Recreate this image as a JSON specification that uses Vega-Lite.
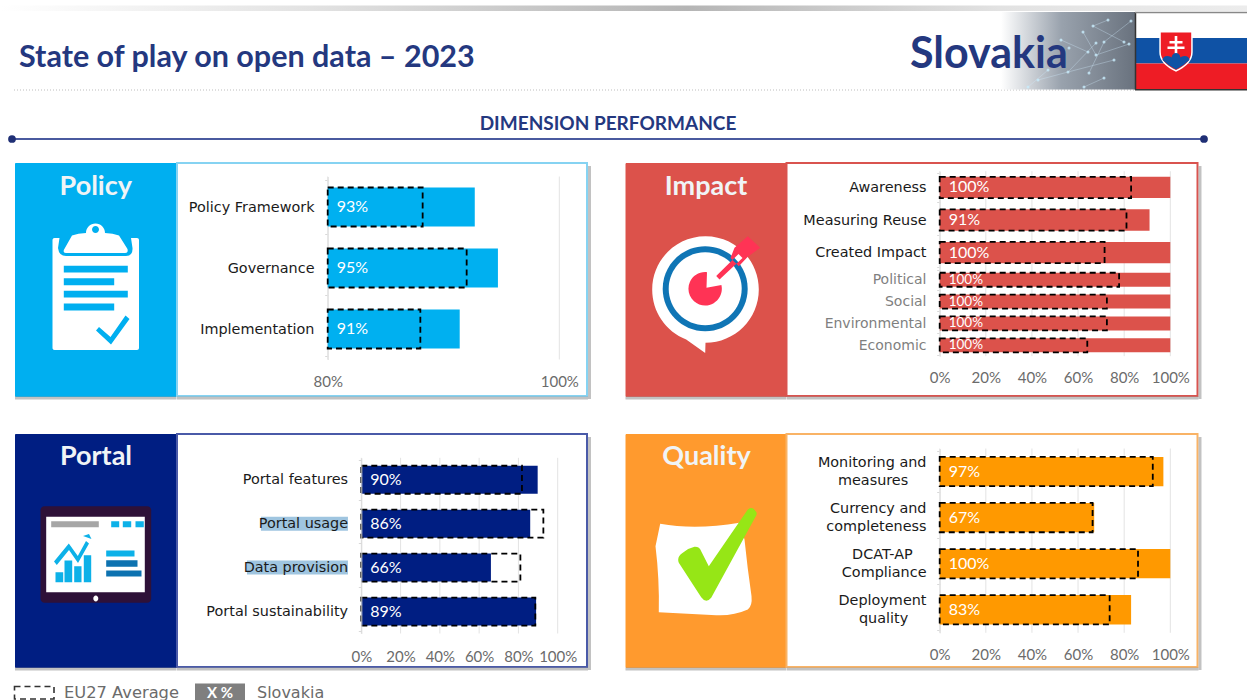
{
"$schema":"https://vega.github.io/schema/vega-lite/v6.json",
"padding":0,
"background":"white",
"spacing":0,
"config":{"font":"Lato","view":{"stroke":null},"axis":{"labelOverlap":false,"labelFlush":false,"labelBound":false,"title":null}},
"datasets":{
"policy":[{"dimension":"Policy Framework","slovakia":0.927,"eu27":0.882},{"dimension":"Governance","slovakia":0.947,"eu27":0.92},{"dimension":"Implementation","slovakia":0.914,"eu27":0.88}],
"impactMain":[{"dimension":"Awareness","slovakia":1,"eu27":0.83},{"dimension":"Measuring Reuse","slovakia":0.91,"eu27":0.81},{"dimension":"Created Impact","slovakia":1,"eu27":0.715}],
"impactSub":[{"dimension":"Political","slovakia":1,"eu27":0.778},{"dimension":"Social","slovakia":1,"eu27":0.725},{"dimension":"Environmental","slovakia":1,"eu27":0.725},{"dimension":"Economic","slovakia":1,"eu27":0.64}],
"portal":[{"dimension":"Portal features","slovakia":0.898,"eu27":0.818},{"dimension":"Portal usage","slovakia":0.86,"eu27":0.927},{"dimension":"Data provision","slovakia":0.66,"eu27":0.81},{"dimension":"Portal sustainability","slovakia":0.89,"eu27":0.886}],
"quality":[{"dimension":"Monitoring and\nmeasures\u00a0\u00a0\u00a0\u00a0\u200b","slovakia":0.97,"eu27":0.924},{"dimension":"Currency and\ncompleteness","slovakia":0.67,"eu27":0.663},{"dimension":"DCAT-AP\u00a0\u00a0\u00a0\u200b\nCompliance","slovakia":1,"eu27":0.86},{"dimension":"Deployment\nquality\u00a0\u00a0\u00a0\u00a0\u200b","slovakia":0.83,"eu27":0.737}],
"ticks":[{"tick":0},{"tick":0.2},{"tick":0.4},{"tick":0.6},{"tick":0.8},{"tick":1}],
"policyTicks":[{"tick":0.8},{"tick":1}],
"nodes":[{"nx":1130,"ny":21},{"nx":1092,"ny":26},{"nx":1095,"ny":43},{"nx":1103,"ny":42},{"nx":1123,"ny":42},{"nx":1128,"ny":44},{"nx":1067,"ny":72},{"nx":1088,"ny":73},{"nx":1103,"ny":78},{"nx":1113,"ny":60},{"nx":1087,"ny":52},{"nx":1082,"ny":32},{"nx":1107,"ny":20},{"nx":1095,"ny":55},{"nx":1068,"ny":48},{"nx":1047,"ny":70},{"nx":1037,"ny":80},{"nx":1027,"ny":87},{"nx":1083,"ny":87},{"nx":1060,"ny":40}],
"links":[{"link":1,"nx":1092,"ny":26},{"link":1,"nx":1123,"ny":42},{"link":2,"nx":1095,"ny":43},{"link":2,"nx":1067,"ny":72},{"link":3,"nx":1103,"ny":42},{"link":3,"nx":1088,"ny":73},{"link":4,"nx":1130,"ny":21},{"link":4,"nx":1103,"ny":42},{"link":5,"nx":1113,"ny":60},{"link":5,"nx":1067,"ny":72},{"link":6,"nx":1037,"ny":80},{"link":6,"nx":1067,"ny":72},{"link":7,"nx":1027,"ny":87},{"link":7,"nx":1047,"ny":70},{"link":8,"nx":1083,"ny":87},{"link":8,"nx":1103,"ny":78},{"link":9,"nx":1082,"ny":32},{"link":9,"nx":1095,"ny":55},{"link":10,"nx":1128,"ny":44},{"link":10,"nx":1095,"ny":55},{"link":11,"nx":1060,"ny":40},{"link":11,"nx":1087,"ny":52},{"link":12,"nx":1107,"ny":20},{"link":12,"nx":1092,"ny":26}]
},
"vconcat":[
{
"width":1247,"height":154,
"data":{"values":[{"title":"State of play on open data – 2023","country":"Slovakia","section":"DIMENSION PERFORMANCE"}]},
"layer":[
{"encoding":{"x":{"datum":0,"type":"quantitative","scale":{"domain":[0,1247]},"axis":null},"y":{"datum":0,"type":"quantitative","scale":{"domain":[154,0]},"axis":null}},
"layer":[
{"mark":{"type":"rect","color":{"gradient":"linear","x1":0,"x2":1,"y1":0,"y2":0,"stops":[{"offset":0,"color":"#ffffff"},{"offset":0.25,"color":"#e2e2e2"},{"offset":0.55,"color":"#b5b5b5"},{"offset":0.8,"color":"#e2e2e2"},{"offset":1,"color":"#ececec"}]}},"encoding":{"x":{"datum":0},"x2":{"datum":1247},"y":{"datum":5.5},"y2":{"datum":11}}},
{"mark":{"type":"rule","color":"#bdbdbd","strokeWidth":1,"strokeDash":[1,2]},"encoding":{"x":{"datum":13},"x2":{"datum":1134},"y":{"datum":90}}},
{"mark":{"type":"rect","color":{"gradient":"linear","x1":0,"x2":1,"y1":0,"y2":0,"stops":[{"offset":0,"color":"#ffffff"},{"offset":0.45,"color":"#99a2ad"},{"offset":1,"color":"#69727e"}]}},"encoding":{"x":{"datum":1000},"x2":{"datum":1134},"y":{"datum":12},"y2":{"datum":89.5}}}
]},
{"data":{"name":"links"},"mark":{"type":"line","color":"#cfe9f8","strokeWidth":0.7,"opacity":0.5},"encoding":{"x":{"field":"nx","type":"quantitative","scale":{"domain":[0,1247]},"axis":null},"y":{"field":"ny","type":"quantitative","scale":{"domain":[154,0]},"axis":null},"detail":{"field":"link"}}},
{"data":{"name":"nodes"},"mark":{"type":"point","filled":true,"color":"#c8ecfc","size":9,"opacity":0.8},"encoding":{"x":{"field":"nx","type":"quantitative","scale":{"domain":[0,1247]},"axis":null},"y":{"field":"ny","type":"quantitative","scale":{"domain":[154,0]},"axis":null}}},
{"encoding":{"x":{"datum":0,"type":"quantitative","scale":{"domain":[0,1247]},"axis":null},"y":{"datum":0,"type":"quantitative","scale":{"domain":[154,0]},"axis":null}},
"layer":[
{"mark":{"type":"text","font":"Lato","fontWeight":"bold","fontSize":30.5,"color":"#24387f","align":"left","baseline":"middle"},"encoding":{"x":{"datum":18},"y":{"datum":58},"text":{"field":"title"}}},
{"mark":{"type":"text","font":"Lato","fontWeight":"bold","fontSize":43,"color":"#24387f","align":"left","baseline":"middle"},"encoding":{"x":{"datum":909},"y":{"datum":55},"text":{"field":"country"}}},
{"mark":{"type":"text","font":"Lato","fontWeight":"bold","fontSize":19,"color":"#24387f","align":"center","baseline":"middle"},"encoding":{"x":{"datum":607},"y":{"datum":123.5},"text":{"field":"section"}}},
{"mark":{"type":"rule","color":"#4a5a9f","strokeWidth":2},"encoding":{"x":{"datum":11},"x2":{"datum":1203},"y":{"datum":139}}},
{"mark":{"type":"point","filled":true,"color":"#1f2f75","size":60,"opacity":1},"encoding":{"x":{"datum":11},"y":{"datum":139}}},
{"mark":{"type":"point","filled":true,"color":"#1f2f75","size":60,"opacity":1},"encoding":{"x":{"datum":1203},"y":{"datum":139}}},
{"mark":{"type":"rect","color":"#ffffff"},"encoding":{"x":{"datum":1134},"x2":{"datum":1247},"y":{"datum":12},"y2":{"datum":38}}},
{"mark":{"type":"rect","color":"#0f52a5"},"encoding":{"x":{"datum":1134},"x2":{"datum":1247},"y":{"datum":38},"y2":{"datum":63.5}}},
{"mark":{"type":"rect","color":"#ee1c25"},"encoding":{"x":{"datum":1134},"x2":{"datum":1247},"y":{"datum":63.5},"y2":{"datum":89.5}}},
{"mark":{"type":"rule","color":"#333333","strokeWidth":1.5},"encoding":{"x":{"datum":1134.5},"y":{"datum":12},"y2":{"datum":90}}},
{"mark":{"type":"rule","color":"#333333","strokeWidth":1.5},"encoding":{"x":{"datum":1134},"x2":{"datum":1247},"y":{"datum":89.8}}},
{"mark":{"type":"rule","color":"#888888","strokeWidth":1.5},"encoding":{"x":{"datum":1134},"x2":{"datum":1247},"y":{"datum":12.5}}},
{"mark":{"type":"point","filled":true,"opacity":1,"color":"#ffffff","size":4,"shape":"M1158.3 31 H1191.7 V52 Q1191.7 64 1175 71.7 Q1158.3 64 1158.3 52 Z"}},
{"mark":{"type":"point","filled":true,"opacity":1,"color":"#ee1c25","size":4,"shape":"M1159.8 32.5 H1190.2 V52 Q1190.2 63 1175 70 Q1159.8 63 1159.8 52 Z"}},
{"mark":{"type":"point","filled":true,"opacity":1,"color":"#ffffff","size":4,"shape":"M1173.7 36 H1176.3 V41 H1181.5 V43.5 H1176.3 V46.5 H1183.5 V49 H1176.3 V56 H1173.7 V49 H1166.5 V46.5 H1173.7 V43.5 H1168.5 V41 H1173.7 Z"}},
{"mark":{"type":"point","filled":true,"opacity":1,"color":"#0f52a5","size":4,"shape":"M1161.5 60 Q1162 56 1166.5 56 Q1169.5 56 1170.5 57.5 Q1171.5 53 1175 53 Q1178.5 53 1179.5 57.5 Q1180.5 56 1183.5 56 Q1188 56 1188.5 60 Q1183 65.5 1175 69.5 Q1167 65.5 1161.5 60 Z"}}
]}
]
},
{
"vconcat":[
{"hconcat":[
{"width":11.5,"height":233,"data":{"values":[{}]},"mark":{"type":"rule","opacity":0},"encoding":{}},
{"hconcat":[
{"hconcat":[
{"width":161.5,"height":233,"view":{"fill":"#00aff0","stroke":"#00aff0"},"data":{"values":[{"panel":"Policy"}]},
"encoding":{"x":{"datum":0,"type":"quantitative","scale":{"domain":[0,161.5]},"axis":null},"y":{"datum":0,"type":"quantitative","scale":{"domain":[233,0]},"axis":null}},
"layer":[
{"mark":{"type":"rule","color":"#9a9a9a","strokeWidth":3,"opacity":0.6},"encoding":{"x":{"datum":0},"x2":{"datum":161.5},"y":{"datum":235}}},
{"mark":{"type":"text","font":"Lato","fontWeight":"bold","fontSize":27,"color":"#f0f4f6","align":"center","baseline":"middle"},"encoding":{"x":{"datum":80.75},"y":{"datum":24},"text":{"field":"panel"}}},
{"mark":{"type":"point","filled":true,"opacity":1,"color":"#ffffff","size":4,"shape":"M39.5 75 H122 a2 2 0 0 1 2 2 V185 a2 2 0 0 1 -2 2 H39.5 a2 2 0 0 1 -2 -2 V77 a2 2 0 0 1 2 -2 Z"}},
{"mark":{"type":"point","filled":true,"opacity":1,"color":"#00aff0","size":4,"shape":"M44.5 75 L43 85 Q44 93 51 93 H111 Q118 93 117.5 85 L116 75 Z M48.8 102.8 H112.8 V109.5 H48.8 Z M48.8 115.2 H99.2 V122.2 H48.8 Z M48.8 127.8 H112.8 V134.5 H48.8 Z M48.8 140.5 H99.2 V147.5 H48.8 Z M84 164 L95.5 174 L110.5 152.5 L114.5 156 L96 181.5 L81 167.5 Z"}},
{"mark":{"type":"point","filled":true,"opacity":1,"color":"#ffffff","size":4,"shape":"M48.8 87 Q48 90 51 90 H110 Q113.5 90 112.5 86 L104 72.5 Q98 70 90 70 A9.5 9.5 0 0 0 71 70 Q63 70 57 72.5 Z"}},
{"mark":{"type":"point","filled":true,"opacity":1,"color":"#00aff0","size":4,"shape":"M84 66.5 a3.5 3.5 0 1 1 -7 0 a3.5 3.5 0 1 1 7 0 Z"}}
]},
{"width":410,"height":233,"view":{"fill":"#ffffff","stroke":"#86d3f2","strokeWidth":2},"data":{"name":"policy"},
"encoding":{"y":{"field":"dimension","type":"nominal","sort":null,"scale":{"range":[13.5,196.5]},"axis":{"offset":-150.7,"domainColor":"#d9d9d9","tickColor":"#d9d9d9","tickSize":3,"tickBand":"extent","labelFont":"DejaVu Sans","labelFontSize":14.4,"labelColor":"#1a1a1a","labelPadding":10.7}}},
"layer":[
{"data":{"values":[{}]},"mark":{"type":"rule","color":"#9a9a9a","strokeWidth":3,"opacity":0.6},"encoding":{"x":{"value":412.5},"y":{"value":3},"y2":{"value":236}}},
{"data":{"values":[{}]},"mark":{"type":"rule","color":"#9a9a9a","strokeWidth":3,"opacity":0.6},"encoding":{"x":{"value":0},"x2":{"value":411},"y":{"value":235}}},
{"data":{"name":"policyTicks"},"mark":{"type":"rule","color":"#e3e3e3","strokeWidth":1},"encoding":{"x":{"field":"tick","type":"quantitative","scale":{"domain":[0.8,1],"range":[150.7,382.3]},"axis":{"values":[0.8,1],"format":".0%","offset":-36.5,"domain":false,"ticks":false,"grid":false,"labelFontSize":15,"labelColor":"#6b6b6b","labelPadding":15}},"y":{"value":13.5},"y2":{"value":196.5}}},
{"mark":{"type":"bar","color":"#00b0f0","size":39},"encoding":{"x":{"field":"slovakia","type":"quantitative"},"x2":{"datum":0.8}}},
{"mark":{"type":"bar","filled":false,"fillOpacity":0,"stroke":"#000000","strokeWidth":1.8,"strokeDash":[6,4],"size":39},"encoding":{"x":{"field":"eu27","type":"quantitative"},"x2":{"datum":0.8}}},
{"mark":{"type":"text","align":"left","baseline":"middle","dx":9,"fontSize":16,"color":"#ffffff"},"encoding":{"x":{"datum":0.8,"type":"quantitative"},"text":{"field":"slovakia","type":"quantitative","format":".0%"}}}
]}
],"spacing":0,"bounds":"flush"},
{"hconcat":[
{"width":160.5,"height":233,"view":{"fill":"#dc524b","stroke":"#dc524b"},"data":{"values":[{"panel":"Impact"}]},
"encoding":{"x":{"datum":0,"type":"quantitative","scale":{"domain":[0,160.5]},"axis":null},"y":{"datum":0,"type":"quantitative","scale":{"domain":[233,0]},"axis":null}},
"layer":[
{"mark":{"type":"rule","color":"#9a9a9a","strokeWidth":3,"opacity":0.6},"encoding":{"x":{"datum":0},"x2":{"datum":160.5},"y":{"datum":235}}},
{"mark":{"type":"text","font":"Lato","fontWeight":"bold","fontSize":27,"color":"#f0f4f6","align":"center","baseline":"middle"},"encoding":{"x":{"datum":80.5},"y":{"datum":24},"text":{"field":"panel"}}},
{"mark":{"type":"point","filled":true,"opacity":1,"color":"#ffffff","size":4,"shape":"M26.7 126.5 A53.3 53.3 0 1 1 80 179.8 L79.7 190 L60.7 176.5 A53.3 53.3 0 0 1 26.7 126.5 Z"}},
{"mark":{"type":"point","filled":true,"opacity":1,"color":"#0f75b5","size":4,"shape":"M37.2 125.8 A42.5 42.5 0 1 1 122.2 125.8 A42.5 42.5 0 1 1 37.2 125.8 Z"}},
{"mark":{"type":"point","filled":true,"opacity":1,"color":"#ffffff","size":4,"shape":"M43.2 125.8 A36.5 36.5 0 1 1 116.2 125.8 A36.5 36.5 0 1 1 43.2 125.8 Z"}},
{"mark":{"type":"point","filled":true,"opacity":1,"color":"#ff3355","size":4,"shape":"M81 124.8 L95.9 122 A16.7 16.7 0 1 1 81.5 109.2 Z M90.7 113 L94 116.5 L117 95 L113 91 Z M122.3 73.2 L134.7 84.8 L122.3 93.8 L113.3 103.2 L105 95 L109 84.8 Z"}}
]},
{"width":411,"height":233,"view":{"fill":"#ffffff","stroke":"#d9534f","strokeWidth":2},
"layer":[
{"data":{"values":[{}]},"mark":{"type":"rule","color":"#9a9a9a","strokeWidth":3,"opacity":0.6},"encoding":{"x":{"value":413.5},"y":{"value":3},"y2":{"value":236}}},
{"data":{"values":[{}]},"mark":{"type":"rule","color":"#9a9a9a","strokeWidth":3,"opacity":0.6},"encoding":{"x":{"value":0},"x2":{"value":412},"y":{"value":235}}},
{"data":{"name":"ticks"},"mark":{"type":"rule","color":"#e3e3e3","strokeWidth":1},"encoding":{"x":{"field":"tick","type":"quantitative","scale":{"domain":[0,1],"range":[153.2,383.8]},"axis":{"values":[0,0.2,0.4,0.6,0.8,1],"format":".0%","offset":-39.8,"domain":false,"ticks":false,"grid":false,"labelFontSize":15,"labelColor":"#6b6b6b","labelPadding":14}},"y":{"value":8.2},"y2":{"value":193.2}}},
{"data":{"name":"impactMain"},
"encoding":{"y":{"field":"dimension","type":"nominal","sort":null,"scale":{"range":[8.2,105.8]},"axis":{"orient":"left","offset":-153.2,"domainColor":"#d9d9d9","tickColor":"#d9d9d9","tickSize":3,"tickBand":"extent","labelFont":"DejaVu Sans","labelFontSize":14.4,"labelColor":"#1a1a1a","labelPadding":10.7}}},
"layer":[
{"mark":{"type":"bar","color":"#dc524b","size":21.3},"encoding":{"x":{"field":"slovakia","type":"quantitative"},"x2":{"datum":0}}},
{"mark":{"type":"bar","filled":false,"fillOpacity":0,"stroke":"#000000","strokeWidth":1.8,"strokeDash":[6,4],"size":21.3},"encoding":{"x":{"field":"eu27","type":"quantitative"},"x2":{"datum":0}}},
{"mark":{"type":"text","align":"left","baseline":"middle","dx":9,"fontSize":16,"color":"#ffffff"},"encoding":{"x":{"datum":0,"type":"quantitative"},"text":{"field":"slovakia","type":"quantitative","format":".0%"}}}
]},
{"data":{"name":"impactSub"},
"encoding":{"y":{"field":"dimension","type":"nominal","sort":null,"scale":{"range":[105.8,193.2]},"axis":{"orient":"left","offset":-153.2,"domainColor":"#d9d9d9","tickColor":"#d9d9d9","tickSize":3,"tickBand":"extent","labelFont":"DejaVu Sans","labelFontSize":14,"labelColor":"#7f7f7f","labelPadding":10.7}}},
"layer":[
{"mark":{"type":"bar","color":"#dc524b","size":14},"encoding":{"x":{"field":"slovakia","type":"quantitative"},"x2":{"datum":0}}},
{"mark":{"type":"bar","filled":false,"fillOpacity":0,"stroke":"#000000","strokeWidth":1.8,"strokeDash":[6,4],"size":14},"encoding":{"x":{"field":"eu27","type":"quantitative"},"x2":{"datum":0}}},
{"mark":{"type":"text","align":"left","baseline":"middle","dx":9,"fontSize":13.5,"color":"#ffffff"},"encoding":{"x":{"datum":0,"type":"quantitative"},"text":{"field":"slovakia","type":"quantitative","format":".0%"}}}
]}
],
"resolve":{"scale":{"y":"independent"},"axis":{"y":"independent"}}}
],"spacing":0,"bounds":"flush"}
],"spacing":31.5}
],"spacing":0},
{"hconcat":[
{"width":11.5,"height":233,"data":{"values":[{}]},"mark":{"type":"rule","opacity":0},"encoding":{}},
{"hconcat":[
{"hconcat":[
{"width":161.5,"height":233,"view":{"fill":"#001e82","stroke":"#001e82"},"data":{"values":[{"panel":"Portal"}]},
"encoding":{"x":{"datum":0,"type":"quantitative","scale":{"domain":[0,161.5]},"axis":null},"y":{"datum":0,"type":"quantitative","scale":{"domain":[233,0]},"axis":null}},
"layer":[
{"mark":{"type":"rule","color":"#9a9a9a","strokeWidth":3,"opacity":0.6},"encoding":{"x":{"datum":0},"x2":{"datum":161.5},"y":{"datum":235}}},
{"mark":{"type":"text","font":"Lato","fontWeight":"bold","fontSize":27,"color":"#f0f4f6","align":"center","baseline":"middle"},"encoding":{"x":{"datum":81},"y":{"datum":23},"text":{"field":"panel"}}},
{"mark":{"type":"point","filled":true,"opacity":1,"color":"#2e1138","size":4,"shape":"M29.5 72.2 H132.2 a4 4 0 0 1 4 4 V164.8 a4 4 0 0 1 -4 4 H29.5 a4 4 0 0 1 -4 -4 V76.2 a4 4 0 0 1 4 -4 Z"}},
{"mark":{"type":"point","filled":true,"opacity":1,"color":"#ffffff","size":4,"shape":"M31.2 82.8 H129.8 V158.2 H31.2 Z M78.3 164.5 a2.5 3 0 1 1 5 0 a2.5 3 0 1 1 -5 0 Z"}},
{"mark":{"type":"point","filled":true,"opacity":1,"color":"#a6a6a6","size":4,"shape":"M36.2 87.2 H83.8 V93.2 H36.2 Z"}},
{"mark":{"type":"point","filled":true,"opacity":1,"color":"#0db1e8","size":4,"shape":"M96.2 87.2 H104.2 V93.2 H96.2 Z M107.8 87.2 H116.2 V93.2 H107.8 Z M120.5 87.2 H128.8 V93.2 H120.5 Z M40.5 138.2 H48.2 V148.2 H40.5 Z M49.5 126.5 H57.2 V148.2 H49.5 Z M59.2 132.2 H66.5 V148.2 H59.2 Z M68.8 121.2 H76.2 V148.2 H68.8 Z M91.2 116.5 H119.5 V122.5 H91.2 Z M76.5 105 L74 100 L68 102 Z M39 127.5 L53.8 109.5 L62.8 122 L71 107 L74 109.5 L63 129 L54 116 L41.8 131 Z"}},
{"mark":{"type":"point","filled":true,"opacity":1,"color":"#0d72b0","size":4,"shape":"M91.2 126.2 H122.5 V132.8 H91.2 Z M91.2 136.5 H126.5 V142.5 H91.2 Z"}}
]},
{"width":410,"height":233,"view":{"fill":"#ffffff","stroke":"#4a5aa8","strokeWidth":2},"data":{"name":"portal"},
"encoding":{"y":{"field":"dimension","type":"nominal","sort":null,"scale":{"domain":["Portal features","Portal usage","Data provision","Portal sustainability"],"range":[23.8,199.5]},"axis":{"offset":-184.3,"zindex":1,"domainColor":"#d9d9d9","tickColor":"#d9d9d9","tickSize":3,"tickBand":"extent","labelFont":"DejaVu Sans","labelFontSize":14.4,"labelColor":"#1a1a1a","labelPadding":10.7}}},
"layer":[
{"data":{"values":[{}]},"mark":{"type":"rule","color":"#9a9a9a","strokeWidth":3,"opacity":0.6},"encoding":{"x":{"value":412.5},"y":{"value":3},"y2":{"value":236}}},
{"data":{"values":[{}]},"mark":{"type":"rule","color":"#9a9a9a","strokeWidth":3,"opacity":0.6},"encoding":{"x":{"value":0},"x2":{"value":411},"y":{"value":235}}},
{"data":{"name":"ticks"},"mark":{"type":"rule","color":"#e3e3e3","strokeWidth":1},"encoding":{"x":{"field":"tick","type":"quantitative","scale":{"domain":[0,1],"range":[184.3,380.7]},"axis":{"values":[0,0.2,0.4,0.6,0.8,1],"format":".0%","offset":-33.5,"domain":false,"ticks":false,"grid":false,"labelFontSize":15,"labelColor":"#6b6b6b","labelPadding":16}},"y":{"value":23.8},"y2":{"value":199.5}}},
{"transform":[{"filter":"datum.dimension==='Portal usage'"}],"mark":{"type":"bar","color":"#9fc5e0","size":14},"encoding":{"x":{"datum":-0.511,"type":"quantitative"},"x2":{"datum":-0.068}}},
{"transform":[{"filter":"datum.dimension==='Data provision'"}],"mark":{"type":"bar","color":"#9fc5e0","size":14},"encoding":{"x":{"datum":-0.582,"type":"quantitative"},"x2":{"datum":-0.068}}},
{"mark":{"type":"bar","color":"#001e82","size":28},"encoding":{"x":{"field":"slovakia","type":"quantitative"},"x2":{"datum":0}}},
{"mark":{"type":"bar","filled":false,"fillOpacity":0,"stroke":"#000000","strokeWidth":1.8,"strokeDash":[6,4],"size":28},"encoding":{"x":{"field":"eu27","type":"quantitative"},"x2":{"datum":0}}},
{"mark":{"type":"text","align":"left","baseline":"middle","dx":9,"fontSize":16,"color":"#ffffff"},"encoding":{"x":{"datum":0,"type":"quantitative"},"text":{"field":"slovakia","type":"quantitative","format":".0%"}}}
]}
],"spacing":0,"bounds":"flush"},
{"hconcat":[
{"width":160.5,"height":233,"view":{"fill":"#ff9a2e","stroke":"#ff9a2e"},"data":{"values":[{"panel":"Quality"}]},
"encoding":{"x":{"datum":0,"type":"quantitative","scale":{"domain":[0,160.5]},"axis":null},"y":{"datum":0,"type":"quantitative","scale":{"domain":[233,0]},"axis":null}},
"layer":[
{"mark":{"type":"rule","color":"#9a9a9a","strokeWidth":3,"opacity":0.6},"encoding":{"x":{"datum":0},"x2":{"datum":160.5},"y":{"datum":235}}},
{"mark":{"type":"text","font":"Lato","fontWeight":"bold","fontSize":27,"color":"#f0f4f6","align":"center","baseline":"middle"},"encoding":{"x":{"datum":81},"y":{"datum":23},"text":{"field":"panel"}}},
{"mark":{"type":"point","filled":true,"opacity":1,"color":"#ffffff","size":4,"shape":"M34.7 89.8 Q70 96 114 88.8 L119 105.5 Q122 135 126 162 Q127 172 122.3 175.5 Q108 182 90.7 181.2 L33.3 178.2 Q34 145 30 112.2 Z"}},
{"mark":{"type":"point","filled":true,"opacity":1,"color":"#96e616","size":4,"shape":"M122.3 75.5 Q127 72 130 77 Q132 79 130.7 81.5 L85.7 163.8 Q80.7 170 75.7 163.2 L53.3 128.8 Q51 123 57.3 118.8 Q63 114 69 112.8 Q74 112.5 75.7 117.2 L83.3 132.2 Z"}}
]},
{"width":411,"height":233,"view":{"fill":"#ffffff","stroke":"#f9b366","strokeWidth":2},"data":{"name":"quality"},
"encoding":{"y":{"field":"dimension","type":"nominal","sort":null,"scale":{"range":[14.5,198.8]},"axis":{"offset":-153.2,"labelExpr":"split(datum.label,'\\n')","labelLineHeight":18,"labelAlign":"right","labelOffset":-9,"domainColor":"#d9d9d9","tickColor":"#d9d9d9","tickSize":3,"tickBand":"extent","labelFont":"DejaVu Sans","labelFontSize":14.4,"labelColor":"#1a1a1a","labelPadding":10.7}}},
"layer":[
{"data":{"values":[{}]},"mark":{"type":"rule","color":"#9a9a9a","strokeWidth":3,"opacity":0.6},"encoding":{"x":{"value":413.5},"y":{"value":3},"y2":{"value":236}}},
{"data":{"values":[{}]},"mark":{"type":"rule","color":"#9a9a9a","strokeWidth":3,"opacity":0.6},"encoding":{"x":{"value":0},"x2":{"value":412},"y":{"value":235}}},
{"data":{"name":"ticks"},"mark":{"type":"rule","color":"#e3e3e3","strokeWidth":1},"encoding":{"x":{"field":"tick","type":"quantitative","scale":{"domain":[0,1],"range":[153.2,383.8]},"axis":{"values":[0,0.2,0.4,0.6,0.8,1],"format":".0%","offset":-34.2,"domain":false,"ticks":false,"grid":false,"labelFontSize":15,"labelColor":"#6b6b6b","labelPadding":14.5}},"y":{"value":14.5},"y2":{"value":198.8}}},
{"mark":{"type":"bar","color":"#ff9900","size":29.3},"encoding":{"x":{"field":"slovakia","type":"quantitative"},"x2":{"datum":0}}},
{"mark":{"type":"bar","filled":false,"fillOpacity":0,"stroke":"#000000","strokeWidth":1.8,"strokeDash":[6,4],"size":29.3},"encoding":{"x":{"field":"eu27","type":"quantitative"},"x2":{"datum":0}}},
{"mark":{"type":"text","align":"left","baseline":"middle","dx":9,"fontSize":16,"color":"#ffffff"},"encoding":{"x":{"datum":0,"type":"quantitative"},"text":{"field":"slovakia","type":"quantitative","format":".0%"}}}
]}
],"spacing":0,"bounds":"flush"}
],"spacing":31.5}
],"spacing":0}
],"spacing":23},
{
"width":1247,"height":28.5,
"data":{"values":[{"eu":"EU27 Average","x":"X %","sk":"Slovakia"}]},
"encoding":{"x":{"datum":0,"type":"quantitative","scale":{"domain":[0,1247]},"axis":null},"y":{"datum":671.5,"type":"quantitative","scale":{"domain":[700,671.5]},"axis":null}},
"layer":[
{"mark":{"type":"rect","filled":false,"fillOpacity":0,"stroke":"#333333","strokeWidth":1.6,"strokeDash":[6,4]},"encoding":{"x":{"datum":13.5},"x2":{"datum":53},"y":{"datum":685},"y2":{"datum":697.5}}},
{"mark":{"type":"text","font":"DejaVu Sans","fontSize":16.3,"color":"#6b6b6b","align":"left","baseline":"middle"},"encoding":{"x":{"datum":63},"y":{"datum":691},"text":{"field":"eu"}}},
{"mark":{"type":"rect","color":"#7f7f7f"},"encoding":{"x":{"datum":194},"x2":{"datum":244},"y":{"datum":682},"y2":{"datum":699.5}}},
{"mark":{"type":"text","font":"Lato","fontWeight":"bold","fontSize":15,"color":"#ffffff","align":"center","baseline":"middle"},"encoding":{"x":{"datum":219},"y":{"datum":691},"text":{"field":"x"}}},
{"mark":{"type":"text","font":"DejaVu Sans","fontSize":16,"color":"#6b6b6b","align":"left","baseline":"middle"},"encoding":{"x":{"datum":256},"y":{"datum":691},"text":{"field":"sk"}}}
]
}
]
}
